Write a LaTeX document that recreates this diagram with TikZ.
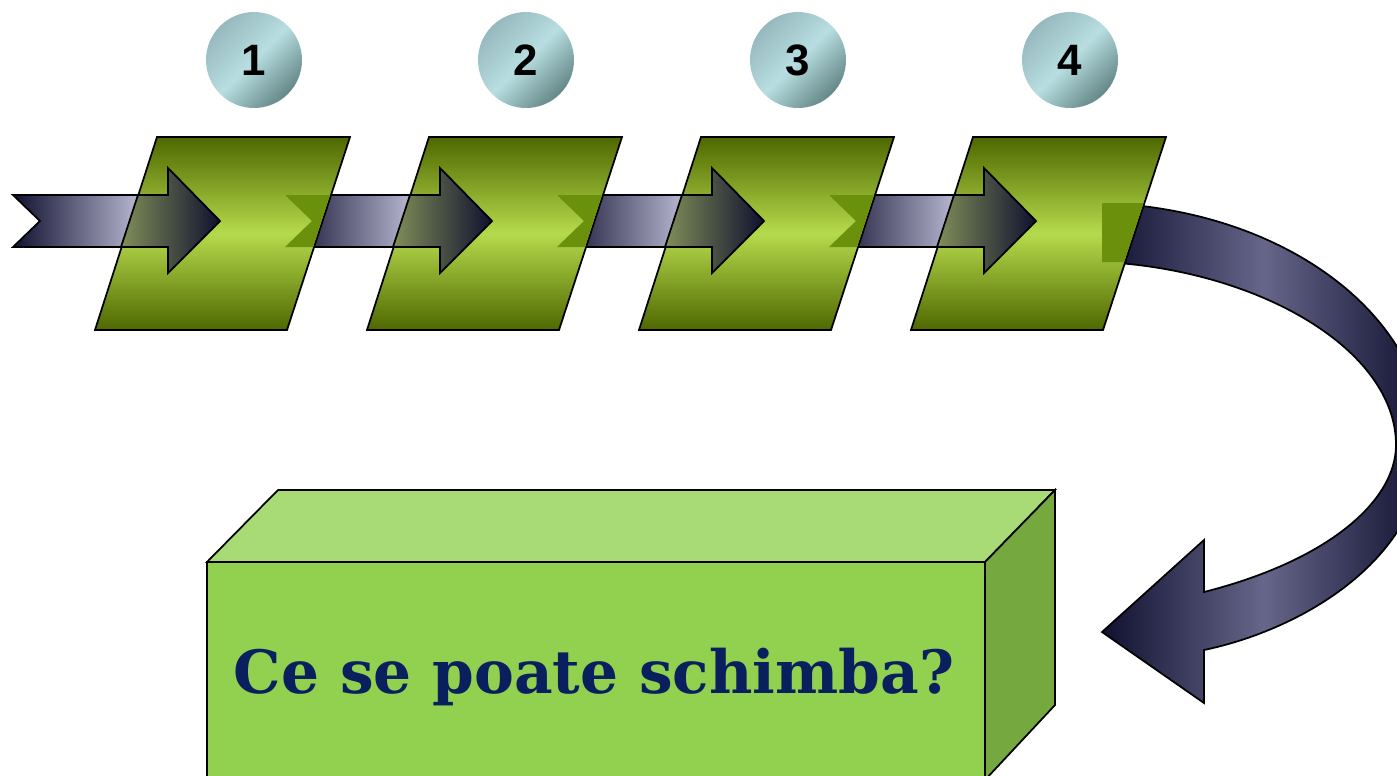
\documentclass[tikz,border=0pt]{standalone}
\usepackage{fontspec}
\usepackage{tikz}
\newfontfamily\numfont{Liberation Sans}
\newfontfamily\boxfont{DejaVu Serif}
\definecolor{bandnavy}{RGB}{16,16,48}
\definecolor{bandlight}{RGB}{185,185,210}
\definecolor{headolive}{RGB}{128,142,88}
\definecolor{curvelight}{RGB}{102,102,138}
\definecolor{paradark}{RGB}{78,104,0}
\definecolor{paralight}{RGB}{182,218,76}
\definecolor{tintgreen}{RGB}{107,145,12}
\definecolor{circlight}{RGB}{184,222,225}
\definecolor{circmid}{RGB}{150,185,190}
\definecolor{circdark}{RGB}{100,135,135}
\definecolor{boxtop}{RGB}{168,218,118}
\definecolor{boxfront}{RGB}{146,208,80}
\definecolor{boxright}{RGB}{117,168,62}
\definecolor{textnavy}{RGB}{10,32,94}

\begin{document}
\begin{tikzpicture}[x=0.02cm, y=-0.02cm,
    outline/.style={draw=black, line width=1pt},
    band/.style={outline, left color=bandnavy, right color=bandlight},
    head/.style={outline, left color=headolive, right color=bandnavy},
    curve/.style={outline, left color=bandnavy, right color=bandnavy, middle color=curvelight},
    para/.style={outline, top color=paradark, bottom color=paradark, middle color=paralight},
    tint/.style={fill=tintgreen},
    num/.style={circle, minimum size=1.92cm, inner sep=0pt, top color=circmid, bottom color=circdark, middle color=circlight, shading angle=45, font=\numfont\bfseries\fontsize{25}{25}\selectfont}]
      \useasboundingbox (0,0) rectangle (1397,775);
      \clip (0,0) rectangle (1397,775);
      \path[band] (13,195) -- (140,195) -- (140,247) -- (13,247) -- (40,221) -- cycle;
      \path[band] (285,195) -- (412,195) -- (412,247) -- (285,247) -- (312,221) -- cycle;
      \path[band] (557,195) -- (684,195) -- (684,247) -- (557,247) -- (584,221) -- cycle;
      \path[band] (829,195) -- (956,195) -- (956,247) -- (829,247) -- (856,221) -- cycle;
      \path[curve] (1103,203) .. controls (1290,210) and (1425,320) .. (1425,440) .. controls (1425,560) and (1300,630) .. (1204,650) -- (1204,703) -- (1102,632) -- (1204,540) -- (1204,592) .. controls (1330,560) and (1396,500) .. (1396,445) .. controls (1396,350) and (1260,270) .. (1103,262) -- cycle;
      \path[para] (95,330) -- (287,330) -- (350,137) -- (157,137) -- cycle;
      \path[para] (367,330) -- (559,330) -- (622,137) -- (429,137) -- cycle;
      \path[para] (639,330) -- (831,330) -- (894,137) -- (701,137) -- cycle;
      \path[para] (911,330) -- (1103,330) -- (1166,137) -- (973,137) -- cycle;
      \fill[tint] (285,195) -- (330,195) -- (313,247) -- (285,247) -- (312,221) -- cycle;
      \fill[tint] (557,195) -- (602,195) -- (585,247) -- (557,247) -- (584,221) -- cycle;
      \fill[tint] (829,195) -- (874,195) -- (857,247) -- (829,247) -- (856,221) -- cycle;
      \fill[tint] (1102,203) -- (1143.5,203) -- (1124,262) -- (1102,262) -- cycle;
      \path[head] (138,195) -- (168,195) -- (168,168) -- (220,221) -- (168,273) -- (168,247) -- (121,247) -- cycle;
      \path[head] (410,195) -- (440,195) -- (440,168) -- (492,221) -- (440,273) -- (440,247) -- (393,247) -- cycle;
      \path[head] (682,195) -- (712,195) -- (712,168) -- (764,221) -- (712,273) -- (712,247) -- (665,247) -- cycle;
      \path[head] (954,195) -- (984,195) -- (984,168) -- (1036,221) -- (984,273) -- (984,247) -- (937,247) -- cycle;
      \node[num] (n1) at (254,60) {1};
      \node[num] (n2) at (526,60) {2};
      \node[num] (n3) at (798,60) {3};
      \node[num] (n4) at (1070,60) {4};
      \filldraw[fill=boxtop, line width=1pt] (207,562) -- (278,490) -- (1055,490) -- (985,562) -- cycle;
      \filldraw[fill=boxright, line width=1pt] (985,562) -- (1055,490) -- (1055,705) -- (985,780) -- cycle;
      \filldraw[fill=boxfront, line width=1pt] (207,562) rectangle (985,780);
      \node[anchor=base, text=textnavy, font=\boxfont\bfseries\fontsize{34}{34}\selectfont] (q) at (594,693) {Ce se poate schimba?};
    \end{tikzpicture}
\end{document}
